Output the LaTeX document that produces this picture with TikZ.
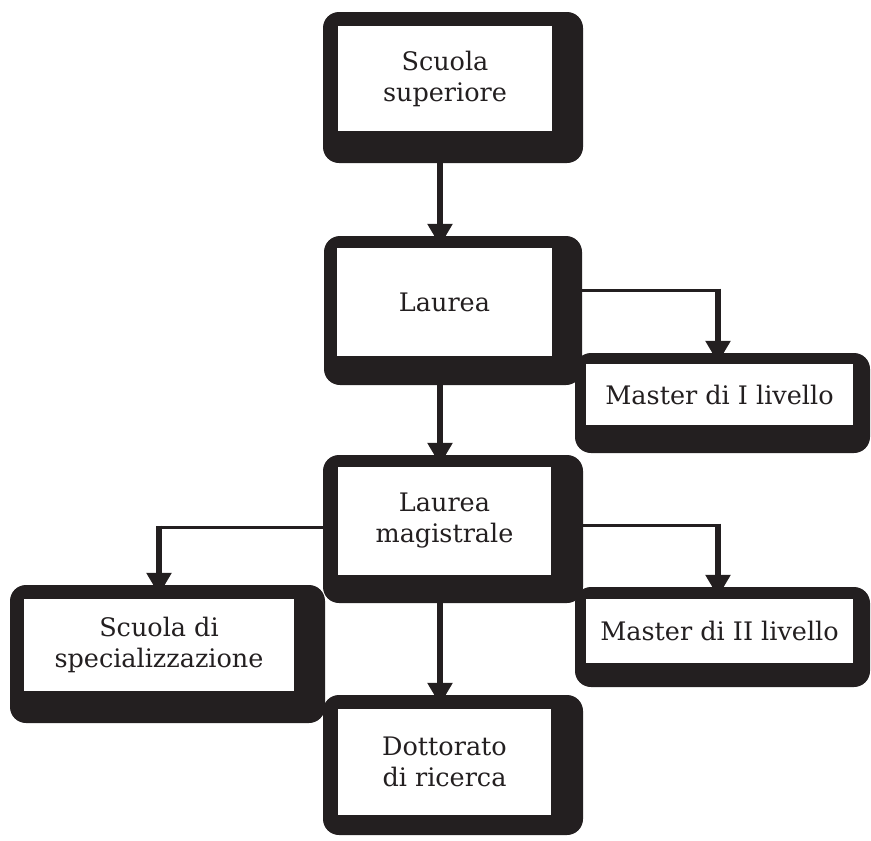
\documentclass[tikz,border=0pt]{standalone}
\usepackage{fontspec}
\setmainfont{DejaVu Serif}
\usetikzlibrary{arrows.meta,calc}
\definecolor{ink}{HTML}{231F20}
\pgfdeclarelayer{bg}
\pgfsetlayers{bg,main}
\tikzset{
  outerbox/.style={fill=ink, draw=none, rounded corners=16pt, inner sep=0pt},
  innerbox/.style={fill=white, draw=none, inner sep=0pt, align=center, text=ink,
    font=\fontsize{25.5}{31}\selectfont},
  hline/.style={draw=ink, line width=3pt},
  vline/.style={draw=ink, line width=5.5pt},
  varrow/.style={vline, -{Triangle[width=24pt,length=22pt]}, shorten >=-10pt}
}
\begin{document}
\begin{tikzpicture}[x=1pt,y=-1pt]
\useasboundingbox (0,0) rectangle (871,841);
% outer black boxes
\node[outerbox, minimum width=260pt, minimum height=151pt] (ss)  at (453,87.5) {};
\node[outerbox, minimum width=258pt, minimum height=149pt] (la)  at (453,310.5) {};
\node[outerbox, minimum width=260pt, minimum height=148pt] (lm)  at (453,529) {};
\node[outerbox, minimum width=315pt, minimum height=138pt] (sds) at (167.5,654) {};
\node[outerbox, minimum width=295pt, minimum height=100pt] (m1)  at (722.5,403) {};
\node[outerbox, minimum width=295pt, minimum height=100pt] (m2)  at (722.5,637) {};
\node[outerbox, minimum width=260pt, minimum height=140pt] (dr)  at (453,765) {};
% inner white panels with text
\node[innerbox, minimum width=214pt, minimum height=105pt] (ssi)  at (445,78.5) {Scuola\\superiore};
\node[innerbox, minimum width=215pt, minimum height=108pt] (lai)  at (444.5,302) {Laurea};
\node[innerbox, minimum width=213pt, minimum height=108pt] (lmi)  at (444.5,521) {Laurea\\magistrale};
\node[innerbox, minimum width=270pt, minimum height=92pt]  (sdsi) at (159,645) {Scuola di\\specializzazione};
\node[innerbox, minimum width=267pt, minimum height=61pt]  (m1i)  at (719.5,394.5) {Master di I livello};
\node[innerbox, minimum width=267pt, minimum height=64pt]  (m2i)  at (719.5,631) {Master di II livello};
\node[innerbox, minimum width=213pt, minimum height=106pt] (dri)  at (444.5,762) {Dottorato\\di ricerca};
% bend points
\coordinate (c1) at (718,290);
\coordinate (c2) at (718,525);
\coordinate (c3) at (159,527);
\begin{pgfonlayer}{bg}
\draw[varrow] ([xshift=-13pt]ss.south) -- ([xshift=-13pt]la.north);
\draw[varrow] ([xshift=-13pt]la.south) -- ([xshift=-13pt]lm.north);
\draw[varrow] ([xshift=-13pt]lm.south) -- ([xshift=-13pt]dr.north);
\draw[hline] (la.east |- c1) -- ([xshift=2.75pt]c1);
\draw[varrow] ([yshift=1.5pt]c1) -- (c1 |- m1.north);
\draw[hline] (lm.east |- c2) -- ([xshift=2.75pt]c2);
\draw[varrow] ([yshift=1.5pt]c2) -- (c2 |- m2.north);
\draw[hline] (lm.west |- c3) -- ([xshift=-2.75pt]c3);
\draw[varrow] ([yshift=1.5pt]c3) -- (c3 |- sds.north);
\end{pgfonlayer}
\end{tikzpicture}
\end{document}
